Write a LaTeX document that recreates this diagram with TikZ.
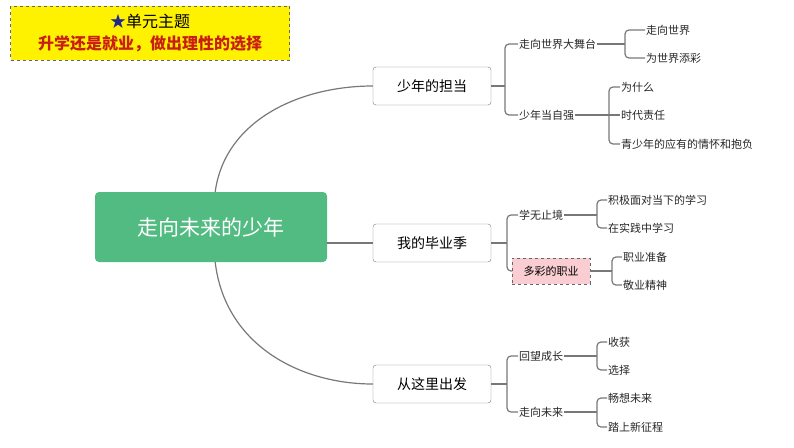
\documentclass[tikz,border=0pt]{standalone}
\usepackage{fontspec}
\setmainfont{Noto Sans CJK SC}
\usetikzlibrary{positioning}
\definecolor{rootgreen}{RGB}{82,187,130}
\definecolor{linegray}{RGB}{120,120,120}
\definecolor{titlered}{RGB}{200,30,20}
\definecolor{starblue}{RGB}{30,40,140}
\definecolor{pinkfill}{RGB}{250,205,210}
\begin{document}
\begin{tikzpicture}[x=1pt,y=-1pt,
    topic/.style={draw=linegray,rounded corners=3pt,fill=white,minimum width=118pt,minimum height=38pt,font=\fontsize{14}{16}\selectfont},
    leaf/.style={anchor=west,inner sep=1pt,font=\fontsize{11}{13}\selectfont,text=black!85},
    link/.style={draw=linegray,line width=1.2pt,rounded corners=4pt}]
  \useasboundingbox (0,0) rectangle (794,447);
  % title
  \node (title) [draw=black!60,dashed,fill=yellow,minimum width=279pt,minimum height=54pt,
    align=center,inner sep=0pt,font=\fontsize{16}{22}\selectfont] at (150,33)
    {\textcolor{starblue}{★}单元主题\\
     \textcolor{titlered}{\bfseries 升学还是就业，做出理性的选择}};
  % root and main topics
  \node (root) [fill=rootgreen,rounded corners=4pt,minimum width=232pt,minimum height=70pt,
    text=white,font=\fontsize{21}{24}\selectfont] at (211,227) {走向未来的少年};
  \node (t1) [topic] at (432,86) {少年的担当};
  \node (t2) [topic] at (432,243) {我的毕业季};
  \node (t3) [topic] at (432,384) {从这里出发};
  \draw[link] (root.north east) ++(-112,0) .. controls (225,120) and (300,86) .. (t1.west);
  \draw[link] (root.south east) ++(-112,0) .. controls (225,345) and (300,384) .. (t3.west);
  \draw[link] (root.east |- t2) -- (t2.west);
  % second level
  \coordinate (b1) at (505,86);
  \coordinate (b2) at (507,243);
  \coordinate (b3) at (507,384);
  \node (s11) [leaf] at (518,44) {走向世界大舞台};
  \node (s12) [leaf] at (518,115) {少年当自强};
  \node (s21) [leaf] at (518,215) {学无止境};
  \node (s22) [draw=black!60,dashed,fill=pinkfill,anchor=west,minimum width=78pt,minimum height=26pt,
    font=\fontsize{11}{13}\selectfont] at (512,271) {多彩的职业};
  \node (s31) [leaf] at (518,356) {回望成长};
  \node (s32) [leaf] at (518,412) {走向未来};
  \draw[link] (t1.east) -- (b1);
  \draw[link] (s11.west) -| (b1) |- (s12.west);
  \draw[link] (t2.east) -- (b2);
  \draw[link] (s21.west) -| (b2) |- (s22.west);
  \draw[link] (t3.east) -- (b3);
  \draw[link] (s31.west) -| (b3) |- (s32.west);
  % third level
  \coordinate (c11) at (625,44);
  \coordinate (c12) at (609,115);
  \coordinate (c21) at (597,215);
  \coordinate (c22) at (612,271);
  \coordinate (c31) at (597,356);
  \coordinate (c32) at (597,412);
  \node (l111) [leaf] at (645,30) {走向世界};
  \node (l112) [leaf] at (645,58) {为世界添彩};
  \node (l121) [leaf] at (620,87) {为什么};
  \node (l122) [leaf] at (620,115) {时代责任};
  \node (l123) [leaf] at (620,144) {青少年的应有的情怀和抱负};
  \node (l211) [leaf] at (607,200) {积极面对当下的学习};
  \node (l212) [leaf] at (607,228) {在实践中学习};
  \node (l221) [leaf] at (622,257) {职业准备};
  \node (l222) [leaf] at (622,285) {敬业精神};
  \node (l311) [leaf] at (607,342) {收获};
  \node (l312) [leaf] at (607,370) {选择};
  \node (l321) [leaf] at (607,398) {畅想未来};
  \node (l322) [leaf] at (607,427) {踏上新征程};
  \draw[link] (s11.east) -- (c11);
  \draw[link] (l111.west) -| (c11) |- (l112.west);
  \draw[link] (s12.east) -- (c12);
  \draw[link] (l121.west) -| (c12) |- (l123.west);
  \draw[link] (c12) -- (l122.west);
  \draw[link] (s21.east) -- (c21);
  \draw[link] (l211.west) -| (c21) |- (l212.west);
  \draw[link] (s22.east) -- (c22);
  \draw[link] (l221.west) -| (c22) |- (l222.west);
  \draw[link] (s31.east) -- (c31);
  \draw[link] (l311.west) -| (c31) |- (l312.west);
  \draw[link] (s32.east) -- (c32);
  \draw[link] (l321.west) -| (c32) |- (l322.west);
\end{tikzpicture}
\end{document}
